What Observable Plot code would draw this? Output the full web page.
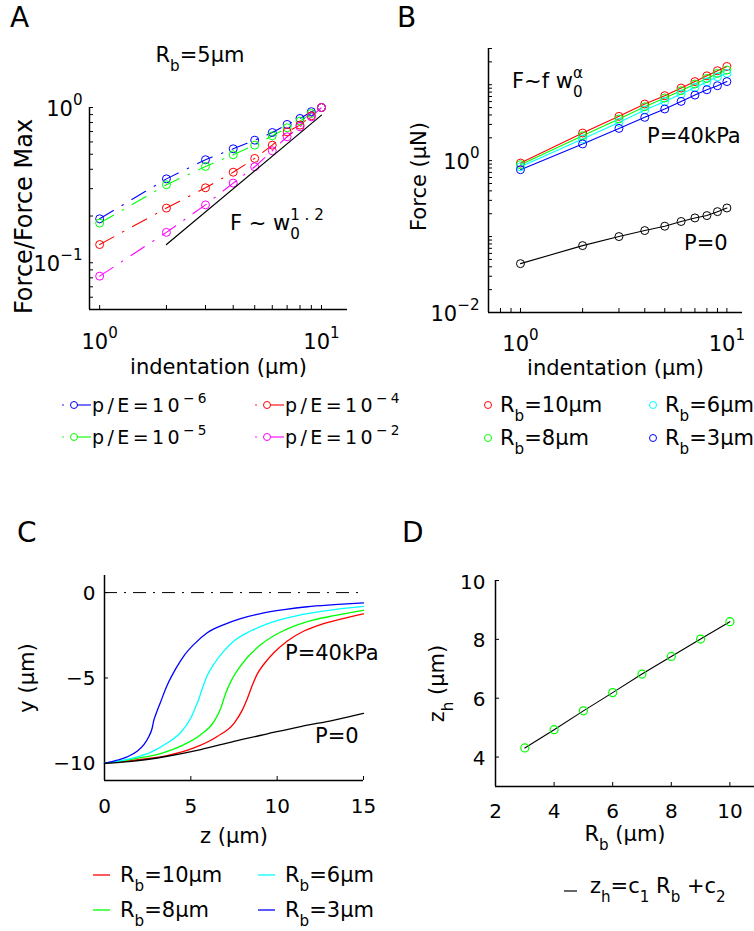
<!DOCTYPE html>
<html><head><meta charset="utf-8">
<script src="https://cdn.jsdelivr.net/npm/d3@7"></script>
<script src="https://cdn.jsdelivr.net/npm/@observablehq/plot@0.6"></script>
<style>
body{margin:0;background:#fff;}
#fig{position:relative;width:754px;height:931px;overflow:hidden;background:#fff;font-family:"DejaVu Sans",sans-serif;}
.panel{position:absolute;}
#overlay{position:absolute;left:0;top:0;}
</style></head><body><div id="fig"></div>
<script>
// ---------------- DATA ----------------
// Panel A: normalized force vs indentation, Rb = 5 um
const indentation = [1,2,3,4,5,6,7,8,9,10];
const forceNorm_pE1e6 = [0.192,0.347,0.461,0.542,0.616,0.69,0.778,0.85,0.94,1.0];
const forceNorm_pE1e5 = [0.18,0.318,0.417,0.496,0.572,0.657,0.74,0.817,0.915,1.0];
const forceNorm_pE1e4 = [0.131,0.225,0.304,0.383,0.47,0.572,0.697,0.77,0.884,1.0];
const forceNorm_pE1e2 = [0.082,0.157,0.236,0.326,0.415,0.526,0.648,0.751,0.871,1.0];
const fitA_x = [2,10];
const fitA_y = [0.131,0.893];
const legendA = ["p/E=10^{\u22126}","p/E=10^{\u22125}","p/E=10^{\u22124}","p/E=10^{\u22122}"];

// Panel B: force (uN) vs indentation
const force_Rb10 = [0.93,2.31,3.83,5.57,7.17,9.04,11.0,13.1,15.3,17.4];
const force_Rb8  = [0.885,2.13,3.54,5.13,6.68,8.34,10.2,12.1,14.1,15.6];
const force_Rb6  = [0.83,1.93,3.19,4.65,6.03,7.54,9.22,10.9,12.7,14.1];
const force_Rb3  = [0.76,1.66,2.66,3.72,4.79,6.03,7.31,8.59,9.7,11.0];
const force_P0   = [0.044,0.076,0.10,0.12,0.137,0.158,0.176,0.189,0.213,0.238];
const legendRb = ["R_{b}=10\u03bcm","R_{b}=8\u03bcm","R_{b}=6\u03bcm","R_{b}=3\u03bcm"];

// Panel C: membrane profiles y(z)
const profRb10_z = [0,2.09,3.63,5.18,6.53,7.50,7.98,8.27,8.56,8.85,9.24,9.82,10.59,11.55,12.52,13.68,15];
const profRb10_y = [-10,-9.77,-9.54,-9.09,-8.42,-7.65,-6.88,-6.21,-5.43,-4.76,-4.18,-3.51,-2.83,-2.25,-1.87,-1.56,-1.25];
const profRb8_z = [0,1.70,3.25,4.60,5.57,6.34,6.73,7.01,7.30,7.69,8.27,9.04,10.01,10.98,12.13,13.3,15];
const profRb8_y = [-10,-9.73,-9.42,-8.90,-8.32,-7.55,-6.78,-5.92,-5.24,-4.57,-3.80,-3.06,-2.41,-1.96,-1.60,-1.35,-1.04];
const profRb6_z = [0,1.70,2.67,3.63,4.41,4.99,5.28,5.47,5.66,5.95,6.34,6.92,7.50,8.46,9.43,10.59,11.75,13.3,15];
const profRb6_y = [-10,-9.67,-9.35,-8.81,-8.19,-7.36,-6.69,-6.21,-5.63,-4.86,-4.18,-3.41,-2.83,-2.25,-1.83,-1.48,-1.23,-1.0,-0.81];
const profRb3_z = [0,0.73,1.31,1.89,2.28,2.57,2.76,2.86,2.96,3.25,3.63,4.12,4.60,5.18,5.95,6.92,7.88,9.04,10.4,11.75,13.3,15];
const profRb3_y = [-10,-9.81,-9.62,-9.29,-8.90,-8.42,-7.94,-7.46,-7.17,-6.40,-5.43,-4.47,-3.70,-3.03,-2.35,-1.87,-1.52,-1.23,-1.0,-0.83,-0.71,-0.60];
const profP0_z = [0,1.70,3.63,5.57,7.50,9.43,11.36,13.3,15];
const profP0_y = [-10,-9.87,-9.58,-9.19,-8.71,-8.27,-7.84,-7.46,-7.07];

// Panel D: z_h vs R_b
const Rb_D = [3,4,5,6,7,8,9,10];
const zh_D = [4.31,4.93,5.57,6.19,6.82,7.42,8.01,8.60];

// ---------------- STYLE ----------------
const FONT = "DejaVu Sans, sans-serif";
const BLUE="#0000ff", GREEN="#00ff00", RED="#ff0000", MAG="#ff00ff", CYAN="#00ffff";
const fig = document.getElementById("fig");
const baseStyle = {fontFamily: FONT, fontSize: "21px", background: "transparent", overflow: "visible", color: "black"};

function logTicks(lo, hi){const t=[];for(let e=-3;e<=2;e++)for(let m=1;m<10;m++){const v=+(m*Math.pow(10,e)).toPrecision(3);if(v>=lo*0.999&&v<=hi*1.001)t.push(v);}return t;}
const pow10Label = d => `10^{${String(Math.round(Math.log10(d))).replace("-","\u2212")}}`;

function place(svg, left, top){const d=document.createElement("div");d.className="panel";d.style.left=left+"px";d.style.top=top+"px";d.appendChild(svg);fig.appendChild(d);}

// ---------------- PANEL A ----------------
{
  const names = ["1e-6","1e-5","1e-4","1e-2"];
  const vals = [forceNorm_pE1e6, forceNorm_pE1e5, forceNorm_pE1e4, forceNorm_pE1e2];
  const rows = names.flatMap((s,k)=>indentation.map((x,i)=>({s,x,y:vals[k][i]})));
  const fit = fitA_x.map((x,i)=>({x,y:fitA_y[i]}));
  const W=377,H=470,mL=89,mR=30,mT=107,mB=161, fw=W-mL-mR, fh=H-mT-mB;
  const xd=[0.9,13.1], yd=[0.05,1];
  const svg = Plot.plot({
    width:W,height:H,marginLeft:mL,marginRight:mR,marginTop:mT,marginBottom:mB,
    style: baseStyle,
    x:{type:"log",domain:xd,axis:null},
    y:{type:"log",domain:yd,axis:null},
    color:{domain:names,range:[BLUE,GREEN,RED,MAG]},
    marks:[
      Plot.tickX(logTicks(xd[0],xd[1]).filter(v=>v>=1),{x:d=>d,insetTop:fh-4,stroke:"black"}),
      Plot.tickY(logTicks(yd[0],yd[1]),{y:d=>d,insetRight:fw-4,stroke:"black"}),
      Plot.ruleX([xd[0]],{stroke:"black",strokeWidth:1.5}),
      Plot.ruleY([yd[0]],{stroke:"black",strokeWidth:1.5}),
      Plot.line(rows,{x:"x",y:"y",z:"s",stroke:"s",strokeWidth:1.1,strokeDasharray:"16,10,1.5,10"}),
      Plot.dot(rows,{x:"x",y:"y",stroke:"s",r:4,strokeWidth:1}),
      Plot.line(fit,{x:"x",y:"y",stroke:"black",strokeWidth:1.2}),
      Plot.text([1,10],{x:d=>d,frameAnchor:"bottom",dy:39,lineAnchor:"bottom",textAnchor:"middle",text:pow10Label,fontSize:21}),
      Plot.text([0.1,1],{y:d=>d,frameAnchor:"left",dx:-7,dy:8,lineAnchor:"bottom",textAnchor:"end",text:pow10Label,fontSize:21}),
      Plot.text(["indentation (\u03bcm)"],{text:d=>d,frameAnchor:"bottom",dy:64,lineAnchor:"bottom",textAnchor:"middle",fontSize:21}),
      Plot.text(["Force/Force Max"],{text:d=>d,frameAnchor:"left",dx:-58,dy:8,rotate:-90,lineAnchor:"bottom",textAnchor:"middle",fontSize:24})
    ]
  });
  place(svg,0,0);
}

// ---------------- PANEL B ----------------
{
  const names = ["Rb10","Rb8","Rb6","Rb3","P0"];
  const vals = [force_Rb10, force_Rb8, force_Rb6, force_Rb3, force_P0];
  const rows = names.flatMap((s,k)=>indentation.map((x,i)=>({s,x,y:vals[k][i]})));
  const W=377,H=520,mL=111,mR=12,mT=48,mB=208, fw=W-mL-mR, fh=H-mT-mB;
  const xd=[0.7,11.9], yd=[0.01,30];
  const svg = Plot.plot({
    width:W,height:H,marginLeft:mL,marginRight:mR,marginTop:mT,marginBottom:mB,
    style: baseStyle,
    x:{type:"log",domain:xd,axis:null},
    y:{type:"log",domain:yd,axis:null},
    color:{domain:names,range:[RED,GREEN,CYAN,BLUE,"#000000"]},
    marks:[
      Plot.tickX(logTicks(xd[0],xd[1]),{x:d=>d,insetTop:fh-4,stroke:"black"}),
      Plot.tickY(logTicks(yd[0],yd[1]),{y:d=>d,insetRight:fw-4,stroke:"black"}),
      Plot.ruleX([xd[0]],{stroke:"black",strokeWidth:1.5}),
      Plot.ruleY([yd[0]],{stroke:"black",strokeWidth:1.5}),
      Plot.line(rows,{x:"x",y:"y",z:"s",stroke:"s",strokeWidth:1.1}),
      Plot.dot(rows,{x:"x",y:"y",stroke:"s",r:4,strokeWidth:1}),
      Plot.text([1,10],{x:d=>d,frameAnchor:"bottom",dy:38,lineAnchor:"bottom",textAnchor:"middle",text:pow10Label,fontSize:21}),
      Plot.text([0.01,1],{y:d=>d,frameAnchor:"left",dx:-9,dy:8,lineAnchor:"bottom",textAnchor:"end",text:pow10Label,fontSize:21}),
      Plot.text(["indentation (\u03bcm)"],{text:d=>d,frameAnchor:"bottom",dy:62,lineAnchor:"bottom",textAnchor:"middle",fontSize:21}),
      Plot.text(["Force (\u03bcN)"],{text:d=>d,frameAnchor:"left",dx:-63,dy:-4,rotate:-90,lineAnchor:"bottom",textAnchor:"middle",fontSize:21})
    ]
  });
  place(svg,377,0);
}

// ---------------- PANEL C ----------------
{
  const names = ["Rb10","Rb8","Rb6","Rb3","P0"];
  const zs = [profRb10_z, profRb8_z, profRb6_z, profRb3_z, profP0_z];
  const ys = [profRb10_y, profRb8_y, profRb6_y, profRb3_y, profP0_y];
  const rows = names.flatMap((s,k)=>zs[k].map((z,i)=>({s,z,y:ys[k][i]})));
  const W=377,H=411,mL=104,mR=14,mT=55,mB=151, fw=W-mL-mR, fh=H-mT-mB;
  const xd=[0,15], yd=[-11,1];
  const svg = Plot.plot({
    width:W,height:H,marginLeft:mL,marginRight:mR,marginTop:mT,marginBottom:mB,
    style: baseStyle,
    x:{domain:xd,axis:null},
    y:{domain:yd,axis:null},
    color:{domain:names,range:[RED,GREEN,CYAN,BLUE,"#000000"]},
    marks:[
      Plot.tickX([0,5,10,15],{x:d=>d,insetTop:fh-4,stroke:"black"}),
      Plot.tickY([-10,-5,0],{y:d=>d,insetRight:fw-4,stroke:"black"}),
      Plot.ruleX([xd[0]],{stroke:"black",strokeWidth:1.5}),
      Plot.ruleY([yd[0]],{stroke:"black",strokeWidth:1.5}),
      Plot.ruleY([0],{stroke:"black",strokeWidth:1,strokeDasharray:"13,7,2,7"}),
      Plot.line(rows,{x:"z",y:"y",z:"s",stroke:"s",strokeWidth:1.3,curve:"monotone-x"}),
      Plot.text([0,5,10,15],{x:d=>d,frameAnchor:"bottom",dy:32,lineAnchor:"bottom",textAnchor:"middle",text:d=>String(d),fontSize:20}),
      Plot.text([-10,-5,0],{y:d=>d,frameAnchor:"left",dx:-9,dy:7,lineAnchor:"bottom",textAnchor:"end",text:d=>String(d).replace("-","\u2212"),fontSize:20}),
      Plot.text(["z (\u03bcm)"],{text:d=>d,frameAnchor:"bottom",dy:62,lineAnchor:"bottom",textAnchor:"middle",fontSize:21}),
      Plot.text(["y (\u03bcm)"],{text:d=>d,frameAnchor:"left",dx:-71,rotate:-90,lineAnchor:"bottom",textAnchor:"middle",fontSize:21})
    ]
  });
  place(svg,0,520);
}

// ---------------- PANEL D ----------------
{
  const rows = Rb_D.map((r,i)=>({r,z:zh_D[i]}));
  const W=377,H=411,mL=118,mR=0,mT=60,mB=145, fw=W-mL-mR, fh=H-mT-mB;
  const xd=[2,10.84], yd=[3,10];
  const svg = Plot.plot({
    width:W,height:H,marginLeft:mL,marginRight:mR,marginTop:mT,marginBottom:mB,
    style: baseStyle,
    x:{domain:xd,axis:null},
    y:{domain:yd,axis:null},
    marks:[
      Plot.tickX([2,4,6,8,10],{x:d=>d,insetTop:fh-4,stroke:"black"}),
      Plot.tickY([4,6,8,10],{y:d=>d,insetRight:fw-4,stroke:"black"}),
      Plot.ruleX([xd[0]],{stroke:"black",strokeWidth:1.5}),
      Plot.ruleY([yd[0]],{stroke:"black",strokeWidth:1.5}),
      Plot.line(rows,{x:"r",y:"z",stroke:"black",strokeWidth:1.1}),
      Plot.dot(rows,{x:"r",y:"z",stroke:GREEN,r:4,strokeWidth:1.2}),
      Plot.text([2,4,6,8,10],{x:d=>d,frameAnchor:"bottom",dy:31,lineAnchor:"bottom",textAnchor:"middle",text:d=>String(d),fontSize:20}),
      Plot.text([4,6,8,10],{y:d=>d,frameAnchor:"left",dx:-10,dy:8,lineAnchor:"bottom",textAnchor:"end",text:d=>String(d),fontSize:20}),
      Plot.text(["R_{b} (\u03bcm)"],{text:d=>d,frameAnchor:"bottom",dy:54,lineAnchor:"bottom",textAnchor:"middle",fontSize:21}),
      Plot.text(["z_{h} (\u03bcm)"],{text:d=>d,frameAnchor:"left",dx:-52,rotate:-90,lineAnchor:"bottom",textAnchor:"middle",fontSize:21})
    ]
  });
  place(svg,377,520);
}

// ---------------- OVERLAY: panel letters, annotations, legends ----------------
const ov = d3.select(fig).append("svg").attr("id","overlay").attr("width",754).attr("height",931)
  .style("font-family",FONT).style("overflow","visible");
function T(x,y,s,size,anchor="start",ls=null){const t=ov.append("text").attr("x",x).attr("y",y).attr("font-size",size).attr("text-anchor",anchor).attr("fill","black").text(s);if(ls)t.style("letter-spacing",ls);return t;}
function L(x1,y1,x2,y2,c,w=1.1){ov.append("line").attr("x1",x1).attr("y1",y1).attr("x2",x2).attr("y2",y2).attr("stroke",c).attr("stroke-width",w);}
function C(cx,cy,c,r=3.5){ov.append("circle").attr("cx",cx).attr("cy",cy).attr("r",r).attr("fill","none").attr("stroke",c).attr("stroke-width",1);}

T(10,27,"A",28); T(397,27,"B",28); T(17,542,"C",28); T(402,542,"D",28);
T(200,62,"R_{b}=5\u03bcm",21,"middle");
T(230,230,"F ~ w_{0}^{1 . 2}",21);
T(512,88,"F~f w_{0}^{\u03b1}",21);
T(647,143,"P=40kPa",21);
T(684,250,"P=0",21);
T(285,660,"P=40kPa",21);
T(315,743,"P=0",21);

// legend A
{
  const cols=[BLUE,GREEN,RED,MAG]; const xs=[63,63,256,256]; const ys=[405,437,405,437];
  legendA.forEach((s,i)=>{const x=xs[i],y=ys[i];
    ov.append("circle").attr("cx",x).attr("cy",y).attr("r",0.8).attr("fill",cols[i]);
    L(x+14,y,x+28,y,cols[i]); C(x+11,y,cols[i]);
    T(x+29,y+7,s,19,"start","3.4px");});
}
// legend B
{
  const cols=[RED,GREEN,CYAN,BLUE]; const xs=[488,488,653,653]; const ys=[405,438,405,438];
  legendRb.forEach((s,i)=>{C(xs[i],ys[i],cols[i]); T(xs[i]+12,ys[i]+7,s,21);});
}
// legend C
{
  const cols=[RED,GREEN,CYAN,BLUE]; const xs=[93,93,258,258]; const ys=[875,910,875,910];
  legendRb.forEach((s,i)=>{L(xs[i],ys[i],xs[i]+17,ys[i],cols[i],1.3); T(xs[i]+27,ys[i]+7,s,21);});
}
// legend D
L(564,891,577,891,"black",1.2);
T(590,893,"z_{h}=c_{1} R_{b} +c_{2}",21);

// ---------------- rich text: _{sub} ^{sup} ----------------
function richify(root){
  const NS="http://www.w3.org/2000/svg";
  root.querySelectorAll("text").forEach(t=>{
    const s=t.textContent; if(!/[_^]\{/.test(s)) return;
    const fs=parseFloat(getComputedStyle(t).fontSize)||21;
    while(t.firstChild) t.removeChild(t.firstChild);
    let cur=0,lastSub=null,i=0,m;
    const re=/([_^])\{([^}]*)\}/g;
    const add=(txt,kind)=>{
      const ts=document.createElementNS(NS,"tspan");
      const shift=kind==="sup"?-0.5*fs:kind==="sub"?0.45*fs:0;
      if(shift!==cur) ts.setAttribute("dy",shift-cur);
      if(kind) ts.setAttribute("font-size",0.72*fs);
      ts.textContent=txt; t.appendChild(ts);
      if(kind==="sup"&&lastSub) ts.setAttribute("dx",-lastSub.getComputedTextLength());
      lastSub=kind==="sub"?ts:null; cur=shift;
    };
    while((m=re.exec(s))){if(m.index>i)add(s.slice(i,m.index),null);add(m[2],m[1]==="^"?"sup":"sub");i=re.lastIndex;}
    if(i<s.length)add(s.slice(i),null);
  });
}
richify(fig);
</script></body></html>
